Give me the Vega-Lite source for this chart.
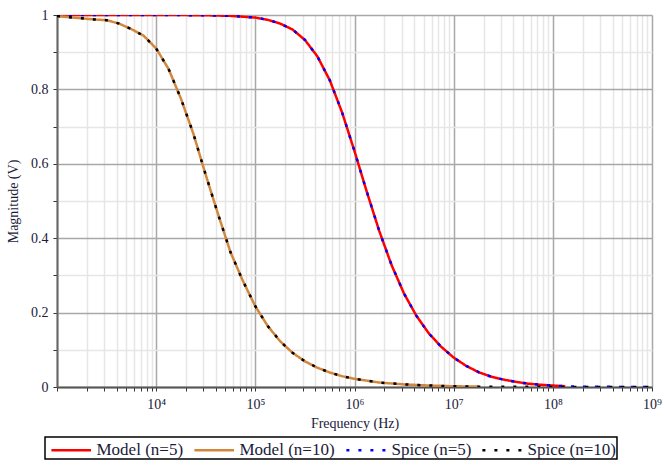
{
  "$schema": "https://vega.github.io/schema/vega-lite/v6.json",
  "width": 595,
  "height": 372,
  "autosize": {"type": "none"},
  "padding": {"left": 57, "top": 15, "right": 12, "bottom": 78},
  "background": "white",
  "config": {"view": {"stroke": null}, "font": "Liberation Serif"},
  "data": {"values": [
    {"s":"Model (n=5)","f":1000,"v":1.0},{"s":"Model (n=5)","f":3162.3,"v":1.0},{"s":"Model (n=5)","f":10000,"v":0.9999},{"s":"Model (n=5)","f":17783,"v":0.9998},{"s":"Model (n=5)","f":31623,"v":0.9993},{"s":"Model (n=5)","f":56234,"v":0.9977},{"s":"Model (n=5)","f":100000,"v":0.993},{"s":"Model (n=5)","f":133350,"v":0.987},{"s":"Model (n=5)","f":177830,"v":0.977},{"s":"Model (n=5)","f":237140,"v":0.961},{"s":"Model (n=5)","f":316230,"v":0.933},{"s":"Model (n=5)","f":421700,"v":0.889},{"s":"Model (n=5)","f":562340,"v":0.825},{"s":"Model (n=5)","f":749890,"v":0.738},{"s":"Model (n=5)","f":1000000,"v":0.634},{"s":"Model (n=5)","f":1333500,"v":0.524},{"s":"Model (n=5)","f":1778300,"v":0.419},{"s":"Model (n=5)","f":2371400,"v":0.327},{"s":"Model (n=5)","f":3162300,"v":0.251},{"s":"Model (n=5)","f":4217000,"v":0.191},{"s":"Model (n=5)","f":5623400,"v":0.144},{"s":"Model (n=5)","f":7498900,"v":0.108},{"s":"Model (n=5)","f":10000000,"v":0.079},{"s":"Model (n=5)","f":13335000,"v":0.057},{"s":"Model (n=5)","f":17783000,"v":0.040},{"s":"Model (n=5)","f":23714000,"v":0.028},{"s":"Model (n=5)","f":31623000,"v":0.020},{"s":"Model (n=5)","f":42170000,"v":0.014},{"s":"Model (n=5)","f":56234000,"v":0.009},{"s":"Model (n=5)","f":74989000,"v":0.006},{"s":"Model (n=5)","f":100000000,"v":0.004},{"s":"Model (n=5)","f":133350000,"v":0.002},

    {"s":"Model (n=10)","f":1000,"v":0.997},{"s":"Model (n=10)","f":1333.5,"v":0.994},{"s":"Model (n=10)","f":1778.3,"v":0.991},{"s":"Model (n=10)","f":2371.4,"v":0.988},{"s":"Model (n=10)","f":3162.3,"v":0.986},{"s":"Model (n=10)","f":4217,"v":0.977},{"s":"Model (n=10)","f":5623.4,"v":0.962},{"s":"Model (n=10)","f":7498.9,"v":0.944},{"s":"Model (n=10)","f":10000,"v":0.910},{"s":"Model (n=10)","f":13335,"v":0.855},{"s":"Model (n=10)","f":17783,"v":0.775},{"s":"Model (n=10)","f":23714,"v":0.681},{"s":"Model (n=10)","f":31623,"v":0.570},{"s":"Model (n=10)","f":42170,"v":0.464},{"s":"Model (n=10)","f":56234,"v":0.362},{"s":"Model (n=10)","f":74989,"v":0.285},{"s":"Model (n=10)","f":100000,"v":0.217},{"s":"Model (n=10)","f":133350,"v":0.164},{"s":"Model (n=10)","f":177830,"v":0.123},{"s":"Model (n=10)","f":237140,"v":0.092},{"s":"Model (n=10)","f":316230,"v":0.069},{"s":"Model (n=10)","f":421700,"v":0.052},{"s":"Model (n=10)","f":562340,"v":0.039},{"s":"Model (n=10)","f":749890,"v":0.029},{"s":"Model (n=10)","f":1000000,"v":0.022},{"s":"Model (n=10)","f":1778300,"v":0.012},{"s":"Model (n=10)","f":3162300,"v":0.007},{"s":"Model (n=10)","f":5623400,"v":0.004},{"s":"Model (n=10)","f":10000000,"v":0.002},{"s":"Model (n=10)","f":17783000,"v":0.001},

    {"s":"Spice (n=5)","f":1000,"v":1.0},{"s":"Spice (n=5)","f":3162.3,"v":1.0},{"s":"Spice (n=5)","f":10000,"v":0.9999},{"s":"Spice (n=5)","f":17783,"v":0.9998},{"s":"Spice (n=5)","f":31623,"v":0.9993},{"s":"Spice (n=5)","f":56234,"v":0.9977},{"s":"Spice (n=5)","f":100000,"v":0.993},{"s":"Spice (n=5)","f":133350,"v":0.987},{"s":"Spice (n=5)","f":177830,"v":0.977},{"s":"Spice (n=5)","f":237140,"v":0.961},{"s":"Spice (n=5)","f":316230,"v":0.933},{"s":"Spice (n=5)","f":421700,"v":0.889},{"s":"Spice (n=5)","f":562340,"v":0.825},{"s":"Spice (n=5)","f":749890,"v":0.738},{"s":"Spice (n=5)","f":1000000,"v":0.634},{"s":"Spice (n=5)","f":1333500,"v":0.524},{"s":"Spice (n=5)","f":1778300,"v":0.419},{"s":"Spice (n=5)","f":2371400,"v":0.327},{"s":"Spice (n=5)","f":3162300,"v":0.251},{"s":"Spice (n=5)","f":4217000,"v":0.191},{"s":"Spice (n=5)","f":5623400,"v":0.144},{"s":"Spice (n=5)","f":7498900,"v":0.108},{"s":"Spice (n=5)","f":10000000,"v":0.079},{"s":"Spice (n=5)","f":13335000,"v":0.057},{"s":"Spice (n=5)","f":17783000,"v":0.040},{"s":"Spice (n=5)","f":23714000,"v":0.028},{"s":"Spice (n=5)","f":31623000,"v":0.020},{"s":"Spice (n=5)","f":42170000,"v":0.014},{"s":"Spice (n=5)","f":56234000,"v":0.009},{"s":"Spice (n=5)","f":74989000,"v":0.006},{"s":"Spice (n=5)","f":100000000,"v":0.004},{"s":"Spice (n=5)","f":133350000,"v":0.002},{"s":"Spice (n=5)","f":177830000,"v":0.001},{"s":"Spice (n=5)","f":316230000,"v":0.0005},{"s":"Spice (n=5)","f":562340000,"v":0.0002},{"s":"Spice (n=5)","f":1000000000,"v":0},

    {"s":"Spice (n=10)","f":1000,"v":0.997},{"s":"Spice (n=10)","f":1333.5,"v":0.994},{"s":"Spice (n=10)","f":1778.3,"v":0.991},{"s":"Spice (n=10)","f":2371.4,"v":0.988},{"s":"Spice (n=10)","f":3162.3,"v":0.986},{"s":"Spice (n=10)","f":4217,"v":0.977},{"s":"Spice (n=10)","f":5623.4,"v":0.962},{"s":"Spice (n=10)","f":7498.9,"v":0.944},{"s":"Spice (n=10)","f":10000,"v":0.910},{"s":"Spice (n=10)","f":13335,"v":0.855},{"s":"Spice (n=10)","f":17783,"v":0.775},{"s":"Spice (n=10)","f":23714,"v":0.681},{"s":"Spice (n=10)","f":31623,"v":0.570},{"s":"Spice (n=10)","f":42170,"v":0.464},{"s":"Spice (n=10)","f":56234,"v":0.362},{"s":"Spice (n=10)","f":74989,"v":0.285},{"s":"Spice (n=10)","f":100000,"v":0.217},{"s":"Spice (n=10)","f":133350,"v":0.164},{"s":"Spice (n=10)","f":177830,"v":0.123},{"s":"Spice (n=10)","f":237140,"v":0.092},{"s":"Spice (n=10)","f":316230,"v":0.069},{"s":"Spice (n=10)","f":421700,"v":0.052},{"s":"Spice (n=10)","f":562340,"v":0.039},{"s":"Spice (n=10)","f":749890,"v":0.029},{"s":"Spice (n=10)","f":1000000,"v":0.022},{"s":"Spice (n=10)","f":1778300,"v":0.012},{"s":"Spice (n=10)","f":3162300,"v":0.007},{"s":"Spice (n=10)","f":5623400,"v":0.004},{"s":"Spice (n=10)","f":10000000,"v":0.002},{"s":"Spice (n=10)","f":17783000,"v":0.001},{"s":"Spice (n=10)","f":31623000,"v":0.0007},{"s":"Spice (n=10)","f":100000000,"v":0.0002},{"s":"Spice (n=10)","f":316230000,"v":0.0001},{"s":"Spice (n=10)","f":1000000000,"v":0}
  ]},
  "mark": {"type": "line", "strokeCap": "butt", "clip": true},
  "encoding": {
    "x": {
      "field": "f", "type": "quantitative",
      "scale": {"type": "log", "domain": [1000, 1000000000], "nice": false},
      "axis": {
        "values": [1000,2000,3000,4000,5000,6000,7000,8000,9000,10000,20000,30000,40000,50000,60000,70000,80000,90000,100000,200000,300000,400000,500000,600000,700000,800000,900000,1000000,2000000,3000000,4000000,5000000,6000000,7000000,8000000,9000000,10000000,20000000,30000000,40000000,50000000,60000000,70000000,80000000,90000000,100000000,200000000,300000000,400000000,500000000,600000000,700000000,800000000,900000000,1000000000],
        "labelExpr": "datum.value==1e4?'10⁴':datum.value==1e5?'10⁵':datum.value==1e6?'10⁶':datum.value==1e7?'10⁷':datum.value==1e8?'10⁸':datum.value==1e9?'10⁹':''",
        "labelOverlap": false,
        "labelFlush": false,
        "labelFont": "Liberation Serif",
        "labelFontSize": 14,
        "labelColor": "#1a1a3a",
        "labelPadding": 6,
        "grid": true,
        "gridColor": {"condition": {"test": "indexof([1e3,1e4,1e5,1e6,1e7,1e8,1e9], datum.value) >= 0", "value": "#a8a8a8"}, "value": "#e6e6e6"},
        "gridWidth": 1.5,
        "domainColor": "#555555",
        "domainWidth": 2,
        "tickColor": "#333333",
        "tickSize": 4,
        "title": "Frequency (Hz)",
        "titleFont": "Liberation Serif",
        "titleFontSize": 14,
        "titleFontWeight": "normal",
        "titleColor": "#1a1a3a",
        "titlePadding": 5
      }
    },
    "y": {
      "field": "v", "type": "quantitative",
      "scale": {"domain": [0, 1], "nice": false},
      "axis": {
        "values": [0,0.1,0.2,0.3,0.4,0.5,0.6,0.7,0.8,0.9,1],
        "labelExpr": "indexof([0,0.2,0.4,0.6,0.8,1], datum.value) >= 0 ? format(datum.value, '~g') : ''",
        "labelOverlap": false,
        "labelFlush": false,
        "labelFont": "Liberation Serif",
        "labelFontSize": 14,
        "labelColor": "#1a1a3a",
        "labelPadding": 5,
        "grid": true,
        "gridColor": {"condition": {"test": "indexof([0,0.2,0.4,0.6,0.8,1], datum.value) >= 0", "value": "#a8a8a8"}, "value": "#e6e6e6"},
        "gridWidth": 1.5,
        "domainColor": "#666666",
        "domainWidth": 2,
        "tickColor": "#333333",
        "tickSize": 4,
        "title": "Magnitude (V)",
        "titleFont": "Liberation Serif",
        "titleFontSize": 14,
        "titleFontWeight": "normal",
        "titleColor": "#1a1a3a",
        "titlePadding": 10
      }
    },
    "color": {
      "field": "s", "type": "nominal",
      "scale": {"domain": ["Model (n=5)", "Model (n=10)", "Spice (n=5)", "Spice (n=10)"], "range": ["#ff0000", "#d2873c", "#0000ff", "#000000"]},
      "legend": {
        "orient": "none", "legendX": -12, "legendY": 422, "direction": "horizontal",
        "title": null, "symbolType": "M-0.6,0H3", "symbolSize": 484,
        "labelFont": "Liberation Serif", "labelFontSize": 17, "labelColor": "#1a1a3a",
        "labelOffset": 26, "columnPadding": 5, "labelLimit": 200,
        "strokeColor": "#000000", "padding": 0.5, "fillColor": "white",
        "encode": {"legend": {"update": {"strokeWidth": {"value": 1.5}}}}
      }
    },
    "strokeDash": {
      "field": "s", "type": "nominal",
      "scale": {"domain": ["Model (n=5)", "Model (n=10)", "Spice (n=5)", "Spice (n=10)"], "range": [[1,0],[1,0],[3,9],[3,9]]}
    },
    "strokeWidth": {
      "field": "s", "type": "nominal",
      "scale": {"domain": ["Model (n=5)", "Model (n=10)", "Spice (n=5)", "Spice (n=10)"], "range": [2.5, 2.5, 3.2, 3.2]}
    }
  }
}
